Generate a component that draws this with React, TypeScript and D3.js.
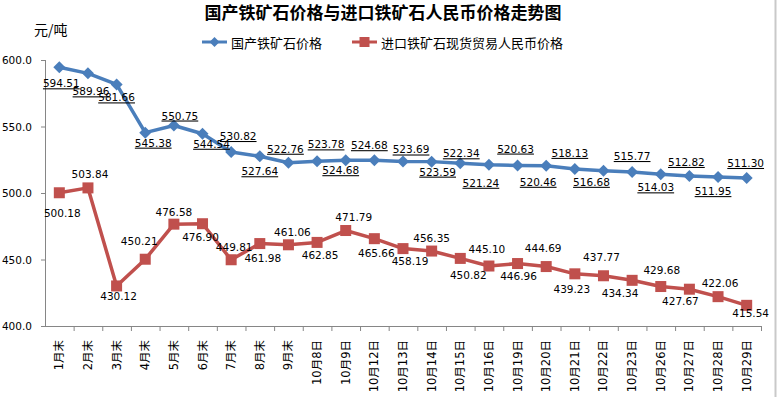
import React from "react";
import * as d3 from "d3";

const categories = [
  "1月末", "2月末", "3月末", "4月末", "5月末", "6月末", "7月末", "8月末", "9月末",
  "10月8日", "10月9日", "10月12日", "10月13日", "10月14日", "10月15日", "10月16日",
  "10月19日", "10月20日", "10月21日", "10月22日", "10月23日", "10月26日", "10月27日",
  "10月28日", "10月29日",
];
const domestic = [
  594.51, 589.96, 581.66, 545.38, 550.75, 544.54, 530.82, 527.64, 522.76,
  523.78, 524.68, 524.68, 523.69, 523.59, 522.34, 521.24, 520.63, 520.46,
  518.13, 516.68, 515.77, 514.03, 512.82, 511.95, 511.3,
];
const imported = [
  500.18, 503.84, 430.12, 450.21, 476.58, 476.9, 449.81, 461.98, 461.06,
  462.85, 471.79, 465.66, 458.19, 456.35, 450.82, 445.1, 446.96, 444.69,
  439.23, 437.77, 434.34, 429.68, 427.67, 422.06, 415.54,
];
const yTicks = [400, 450, 500, 550, 600];
const seriesNames = ["国产铁矿石价格", "进口铁矿石现货贸易人民币价格"];

// label placement (layout only): [dx, dy] of label centre relative to point
const domesticLabelOffsets: [number, number][] = [
  [2, 16], [3, 18], [0, 13], [8, 10], [6, -10], [9, 10], [7, -16], [0, 15], [-3, -14],
  [9, -17], [-5, 10], [-5, -15], [8, -12], [6, 10], [1, -10], [-8, 18], [-2, -17],
  [-8, 16], [-5, -16], [-12, 11], [0, -16], [-5, 13], [-3, -14], [-5, 14], [-1, -15],
];
const importedLabelOffsets: [number, number][] = [
  [3, 20], [2, -14], [2, 10], [-6, -18], [0, -12], [-2, 13], [3, -13], [3, 14], [4, -13],
  [3, 13], [8, -14], [2, 14], [7, 12], [0, -13], [8, 17], [-2, -17], [1, 12],
  [-3, -19], [-3, 15], [-2, -19], [-12, 13], [1, -17], [-9, 12], [2, -14], [4, 8],
];

const W = 777;
const H = 397;
const BLUE = "#4a7ebb";
const RED = "#c0504d";
const NUM_FONT = "'DejaVu Sans', Verdana, sans-serif";
const CJK_FONT = "'Noto Sans CJK SC', sans-serif";

export default function App() {
  const x = d3.scaleBand<string>().domain(categories).range([45, 761]);
  const y = d3.scaleLinear().domain([400, 600]).range([326, 60]);
  const cx = (c: string) => (x(c) as number) + x.bandwidth() / 2;

  const line = d3
    .line<number>()
    .x((_, i) => cx(categories[i]))
    .y((d) => y(d));

  const diamond = (px: number, py: number, r: number) =>
    `M${px},${py - r}L${px + r},${py}L${px},${py + r}L${px - r},${py}Z`;

  return (
    <svg
      width={W}
      height={H}
      style={{ position: "absolute", left: 0, top: 0, background: "#fff" }}
    >
      <rect x={0} y={0} width={W} height={H} fill="#fff" />
      <line x1={775.5} y1={0} x2={775.5} y2={H} stroke="#c9c9c9" strokeWidth={2} />

      {/* title */}
      <text
        x={383}
        y={19}
        textAnchor="middle"
        fontFamily={CJK_FONT}
        fontWeight="bold"
        fontSize={17}
        fill="#000"
      >
        国产铁矿石价格与进口铁矿石人民币价格走势图
      </text>
      <text x={34} y={35} fontFamily={CJK_FONT} fontSize={14} fill="#000">
        元/吨
      </text>

      {/* legend */}
      <g>
        <line x1={202} y1={42} x2={227} y2={42} stroke={BLUE} strokeWidth={3} />
        <path d={diamond(214.5, 42, 5)} fill={BLUE} />
        <text x={231} y={42} dominantBaseline="central" fontFamily={CJK_FONT} fontSize={13} fill="#000">
          {seriesNames[0]}
        </text>
        <line x1={352} y1={42} x2={377} y2={42} stroke={RED} strokeWidth={3} />
        <rect x={359.5} y={37} width={10} height={10} fill={RED} />
        <text x={381} y={42} dominantBaseline="central" fontFamily={CJK_FONT} fontSize={13} fill="#000">
          {seriesNames[1]}
        </text>
      </g>

      {/* y axis */}
      <line x1={45.5} y1={y(600)} x2={45.5} y2={y(400)} stroke="#868686" />
      {yTicks.map((t) => (
        <g key={t}>
          <line x1={41} y1={y(t) + 0.5} x2={45.5} y2={y(t) + 0.5} stroke="#868686" />
          <text
            x={32}
            y={y(t)}
            textAnchor="end"
            dominantBaseline="central"
            fontFamily={NUM_FONT}
            fontSize={10.5}
            fill="#000"
          >
            {t.toFixed(1)}
          </text>
        </g>
      ))}

      {/* x axis */}
      <line x1={45} y1={y(400) + 0.5} x2={761} y2={y(400) + 0.5} stroke="#868686" />
      {categories.map((c, i) => (
        <line
          key={"t" + i}
          x1={(x(c) as number) + x.bandwidth() + 0.5}
          y1={y(400)}
          x2={(x(c) as number) + x.bandwidth() + 0.5}
          y2={y(400) + 5}
          stroke="#868686"
        />
      ))}
      {categories.map((c, i) => (
        <text
          key={"l" + i}
          transform={`translate(${cx(c)},340) rotate(-90)`}
          textAnchor="end"
          dominantBaseline="central"
          fontFamily={`'DejaVu Sans', 'Noto Sans CJK SC', sans-serif`}
          fontSize={11.5}
          fill="#000"
        >
          {c}
        </text>
      ))}

      {/* series lines */}
      <path d={line(domestic) || ""} fill="none" stroke={BLUE} strokeWidth={3.5} strokeLinejoin="round" />
      <path d={line(imported) || ""} fill="none" stroke={RED} strokeWidth={3.5} strokeLinejoin="round" />

      {domestic.map((v, i) => (
        <path key={"dm" + i} d={diamond(cx(categories[i]), y(v), 6)} fill={BLUE} />
      ))}
      {imported.map((v, i) => (
        <rect
          key={"im" + i}
          x={cx(categories[i]) - 5.5}
          y={y(v) - 5.5}
          width={11}
          height={11}
          fill={RED}
        />
      ))}

      {/* data labels */}
      {domestic.map((v, i) => (
        <text
          key={"dl" + i}
          x={cx(categories[i]) + domesticLabelOffsets[i][0]}
          y={y(v) + domesticLabelOffsets[i][1] + 4}
          textAnchor="middle"
          fontFamily={NUM_FONT}
          fontSize={10.5}
          textDecoration="underline"
          fill="#000"
        >
          {v.toFixed(2)}
        </text>
      ))}
      {imported.map((v, i) => (
        <text
          key={"il" + i}
          x={cx(categories[i]) + importedLabelOffsets[i][0]}
          y={y(v) + importedLabelOffsets[i][1] + 4}
          textAnchor="middle"
          fontFamily={NUM_FONT}
          fontSize={10.5}
          fill="#000"
        >
          {v.toFixed(2)}
        </text>
      ))}
    </svg>
  );
}
